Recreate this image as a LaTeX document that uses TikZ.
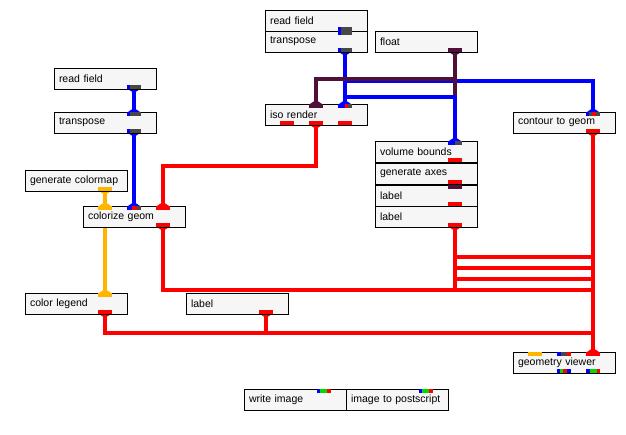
\documentclass[tikz,border=0pt]{standalone}
\usepackage{fontspec}
\setmainfont{Liberation Sans}
\usetikzlibrary{arrows.meta}
\pgfdeclarelayer{background}
\pgfsetlayers{background,main}
\definecolor{wblue}{RGB}{0,0,255}
\definecolor{wred}{RGB}{255,0,0}
\definecolor{wpurple}{RGB}{80,16,56}
\definecolor{wyellow}{RGB}{255,180,0}
\definecolor{wgray}{RGB}{72,72,72}
\definecolor{wgreen}{RGB}{0,220,0}
\definecolor{boxfill}{RGB}{246,246,246}

\begin{document}
\begin{tikzpicture}[x=1pt, y=-1pt,
    module/.style={draw, line width=1pt, fill=boxfill, rectangle, anchor=north west,
        minimum height=21pt, text width=92pt, inner xsep=5pt, inner ysep=0pt,
        outer sep=0pt, align=left, font=\fontsize{10.5}{12}\selectfont},
    port/.style={rectangle, minimum width=14pt, minimum height=4pt, inner sep=0pt, outer sep=0pt},
    inport/.style={port, anchor=north west},
    outport/.style={port, anchor=south west},
    wire/.style={line width=4pt},
    both/.style={{Triangle[reversed, length=4pt, width=12pt]}-{Triangle[reversed, length=4pt, width=12pt]}},
    startflare/.style={{Triangle[reversed, length=4pt, width=12pt]}-},
    endflare/.style={-{Triangle[reversed, length=4pt, width=12pt]}}]
\useasboundingbox (0,0) rectangle (626,434);

% modules
\node[module] (rf2) at (265,10) {read field};
\node[module] (tp2) at (265,31) {transpose};
\node[module] (flt) at (375,31) {float};
\node[module] (iso) at (265,104) {iso render};
\node[module] (rf1) at (54,68) {read field};
\node[module] (tp1) at (54,112) {transpose};
\node[module] (gcm) at (25,170) {generate colormap};
\node[module] (cg) at (83,206) {colorize geom};
\node[module] (ctg) at (513,112) {contour to geom};
\node[module] (vb) at (375,141) {volume bounds};
\node[module] (ga) at (375,163) {generate axes};
\node[module] (lb1) at (375,185) {label};
\node[module] (lb2) at (375,206) {label};
\node[module] (cl) at (25,293) {color legend};
\node[module] (lb3) at (186,293) {label};
\node[module] (gv) at (513,352) {geometry viewer};
\node[module] (wi) at (244,389) {write image};
\node[module] (ips) at (346,389) {image to postscript};

% ports
\node[outport, fill=wgray] (rf2-o2) at ([xshift=73pt]rf2.south west) {};
\node[inport, fill=wgray] (tp2-i2) at ([xshift=73pt]tp2.north west) {};
\node[outport, fill=wgray] (tp2-o2) at ([xshift=73pt]tp2.south west) {};
\node[outport, fill=wpurple] (flt-o2) at ([xshift=73pt]flt.south west) {};
\node[inport, fill=wpurple] (iso-i1) at ([xshift=44pt]iso.north west) {};
\node[inport, fill=wgray] (iso-i2) at ([xshift=73pt]iso.north west) {};
\node[outport, fill=wred] (iso-o0) at ([xshift=15pt]iso.south west) {};
\node[outport, fill=wred] (iso-o1) at ([xshift=44pt]iso.south west) {};
\node[outport, fill=wred] (iso-o2) at ([xshift=73pt]iso.south west) {};
\node[outport, fill=wgray] (rf1-o2) at ([xshift=73pt]rf1.south west) {};
\node[inport, fill=wgray] (tp1-i2) at ([xshift=73pt]tp1.north west) {};
\node[outport, fill=wgray] (tp1-o2) at ([xshift=73pt]tp1.south west) {};
\node[outport, fill=wyellow] (gcm-o2) at ([xshift=73pt]gcm.south west) {};
\node[inport, fill=wyellow] (cg-i0) at ([xshift=15pt]cg.north west) {};
\node[inport, fill=wgray] (cg-i1) at ([xshift=44pt]cg.north west) {};
\node[inport, fill=wred] (cg-i2) at ([xshift=73pt]cg.north west) {};
\node[outport, fill=wred] (cg-o2) at ([xshift=73pt]cg.south west) {};
\node[inport, fill=wgray] (ctg-i2) at ([xshift=73pt]ctg.north west) {};
\node[outport, fill=wred] (ctg-o2) at ([xshift=73pt]ctg.south west) {};
\node[inport, fill=wgray] (vb-i2) at ([xshift=73pt]vb.north west) {};
\node[outport, fill=wred] (vb-o2) at ([xshift=73pt]vb.south west) {};
\node[outport, fill=wred] (ga-o2) at ([xshift=73pt]ga.south west) {};
\node[inport, fill=wpurple] (lb1-i2) at ([xshift=73pt]lb1.north west) {};
\node[outport, fill=wred] (lb1-o2) at ([xshift=73pt]lb1.south west) {};
\node[outport, fill=wred] (lb2-o2) at ([xshift=73pt]lb2.south west) {};
\node[inport, fill=wyellow] (cl-i2) at ([xshift=73pt]cl.north west) {};
\node[outport, fill=wred] (cl-o2) at ([xshift=73pt]cl.south west) {};
\node[outport, fill=wred] (lb3-o2) at ([xshift=73pt]lb3.south west) {};
\node[inport, fill=wyellow] (gv-i0) at ([xshift=15pt]gv.north west) {};
\node[inport, fill=wgray] (gv-i1) at ([xshift=44pt]gv.north west) {};
\node[inport, fill=wred] (gv-i2) at ([xshift=73pt]gv.north west) {};
\node[outport, fill=wred] (gv-o1) at ([xshift=44pt]gv.south west) {};
\node[outport, fill=wred] (gv-o2) at ([xshift=73pt]gv.south west) {};
\node[inport, fill=wred] (wi-i2) at ([xshift=73pt]wi.north west) {};
\node[inport, fill=wred] (ips-i2) at ([xshift=73pt]ips.north west) {};

% port colour parts
\foreach \p in {rf2-o2, tp2-i2, tp2-o2, rf1-o2, tp1-i2, tp1-o2, ctg-i2}
  \fill[wblue] (\p.north west) rectangle ([xshift=3pt]\p.south west);
\fill[wblue] (iso-i2.north west) rectangle ([xshift=7pt]iso-i2.south west);
\fill[wred] ([xshift=7pt]iso-i2.north west) rectangle ([xshift=10pt]iso-i2.south west);
\fill[wblue] (cg-i1.north west) rectangle ([xshift=5pt]cg-i1.south west);
\fill[wred] ([xshift=5pt]cg-i1.north west) rectangle ([xshift=10pt]cg-i1.south west);
\fill[wred] ([xshift=6pt]ctg-i2.north west) rectangle ([xshift=10pt]ctg-i2.south west);
\fill[wblue] (vb-i2.north west) rectangle ([xshift=7pt]vb-i2.south west);
\fill[wblue] (gv-i1.north west) rectangle ([xshift=4pt]gv-i1.south west);
\fill[wred] ([xshift=10pt]gv-i1.north west) rectangle ([xshift=14pt]gv-i1.south west);
\fill[wblue] (gv-o1.north west) rectangle ([xshift=3pt]gv-o1.south west);
\fill[wgreen] ([xshift=3pt]gv-o1.north west) rectangle ([xshift=6pt]gv-o1.south west);
\fill[wblue] ([xshift=10pt]gv-o1.north west) rectangle ([xshift=14pt]gv-o1.south west);
\fill[wblue] (gv-o2.north west) rectangle ([xshift=4pt]gv-o2.south west);
\fill[wgreen] ([xshift=4pt]gv-o2.north west) rectangle ([xshift=11pt]gv-o2.south west);
\foreach \p in {wi-i2, ips-i2} {
  \fill[wblue] (\p.north west) rectangle ([xshift=3pt]\p.south west);
  \fill[wgreen] ([xshift=3pt]\p.north west) rectangle ([xshift=10pt]\p.south west);
}

% connections
\begin{pgfonlayer}{background}
\draw[wire, wblue, both] (rf1-o2.south) -- (tp1-i2.north);
\draw[wire, wblue, both] (tp1-o2.south) -- (cg-i1.north);
\draw[wire, wblue, both] (tp2-o2.south) -- (iso-i2.north);
\draw[wire, wblue, endflare] (tp2-o2.south) ++(0,29) -| (ctg-i2.north);
\draw[wire, wpurple, startflare] (flt-o2.south) -- ++(0,45);
\draw[wire, wpurple, endflare] (flt-o2.south) ++(0,27) -| (iso-i1.north);
\draw[wire, wblue, endflare] (tp2-o2.south) ++(0,45) -| (vb-i2.north);
\draw[wire, wred, both] (iso-o1.south) -- ++(0,41) -| (cg-i2.north);
\draw[wire, wyellow, both] (gcm-o2.south) -- (cg-i0.north);
\draw[wire, wyellow, endflare] (cg-i0.north) -- (cl-i2.north);
\draw[wire, wred] (vb-o2.south) -- ++(0,95) -| (gv-i2.north);
\draw[wire, wred] (ga-o2.south) -- ++(0,84) -| (gv-i2.north);
\draw[wire, wred] (lb1-o2.south) -- ++(0,73) -| (gv-i2.north);
\draw[wire, wred, startflare] (lb2-o2.south) -- ++(0,63) -| (gv-i2.north);
\draw[wire, wred, startflare] (cg-o2.south) -- ++(0,63) -| (gv-i2.north);
\draw[wire, wred, both] (ctg-o2.south) -- (gv-i2.north);
\draw[wire, wred, startflare] (cl-o2.south) -- ++(0,19) -| (gv-i2.north);
\draw[wire, wred, startflare] (lb3-o2.south) -- ++(0,19);
\end{pgfonlayer}
\end{tikzpicture}
\end{document}
